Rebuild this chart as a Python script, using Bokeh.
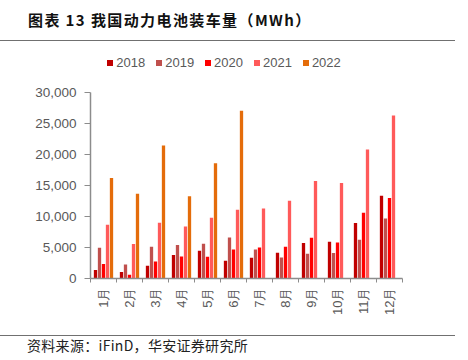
import math
import numpy as np
from bokeh.plotting import figure
from bokeh.models import ColumnDataSource, Range1d, FixedTicker, NumeralTickFormatter, Div
from bokeh.layouts import column
from bokeh.transform import dodge
from bokeh.embed import file_html
from bokeh.resources import INLINE

# ---------------- data ----------------
title_text = "图表 13 我国动力电池装车量（MWh）"
source_text = "资料来源：iFinD，华安证券研究所"
months = ["1月", "2月", "3月", "4月", "5月", "6月", "7月", "8月", "9月", "10月", "11月", "12月"]
years = ["2018", "2019", "2020", "2021", "2022"]
v2018 = [1360, 1030, 2050, 3780, 4470, 2860, 3340, 4150, 5720, 5930, 8940, 13360]
v2019 = [4960, 2270, 5120, 5390, 5600, 6630, 4690, 3400, 3990, 4100, 6250, 9690]
v2020 = [2320, 600, 2750, 3560, 3500, 4690, 5010, 5120, 6580, 5820, 10610, 12990]
v2021 = [8680, 5550, 9000, 8400, 9800, 11100, 11310, 12550, 15730, 15410, 20790, 26280]
v2022 = [16220, 13680, 21440, 13250, 18580, 27040]
y_ticks = [0, 5000, 10000, 15000, 20000, 25000, 30000]

colors = ["#C00000", "#C0504D", "#FF0000", "#FF5A5A", "#E46C0A"]
series = [v2018, v2019, v2020, v2021, v2022]

LATIN = "Liberation Sans"
CJK = "Noto Sans CJK SC"
GREY = "#595959"
AXIS_GREY = "#8c8c8c"
RULE = "#707070"

W = 468
H_HDR, H_MAIN, H_FTR = 72, 250, 38

# ---------------- header (title, rule, legend) ----------------
leg_left, leg_step = 107.3, 48.9
legend_html = "".join(
    f'<div style="position:absolute;left:{leg_left + i * leg_step:.1f}px;top:60px;'
    f'width:6px;height:6px;background:{col};"></div>'
    f'<div style="position:absolute;left:{leg_left + 9 + i * leg_step:.1f}px;top:56.3px;'
    f'font-family:\'{LATIN}\';font-size:13px;line-height:13px;color:{GREY};'
    f'white-space:nowrap;">{yr}</div>'
    for i, (yr, col) in enumerate(zip(years, colors))
)
hdr_html = (
    f'<div style="position:relative;width:{W}px;height:{H_HDR}px;">'
    f'<div style="position:absolute;left:28px;top:12px;font-family:\'{CJK}\';font-size:15px;'
    f'line-height:15px;font-weight:bold;letter-spacing:1.4px;color:#111;'
    f'white-space:nowrap;">{title_text}</div>'
    f'<div style="position:absolute;left:0;top:39.5px;width:455px;height:0;'
    f'border-top:1.3px solid {RULE};"></div>'
    f'{legend_html}'
    '</div>'
)
hdr = Div(text=hdr_html, width=W, height=H_HDR, margin=(0, 0, 0, 0))

# ---------------- main chart ----------------
p = figure(width=W, height=H_MAIN, x_range=Range1d(0, len(months)), y_range=Range1d(0, 30000),
           toolbar_location=None, output_backend="svg",
           min_border_left=90, min_border_right=66, min_border_top=20, min_border_bottom=44,
           outline_line_color=None)
p.xgrid.visible = False
p.ygrid.visible = False

centers = np.arange(len(months)) + 0.5
step = 4 / 26.0
bw = 3.3 / 26.0
for i, (yr, vals, col) in enumerate(zip(years, series, colors)):
    src = ColumnDataSource(dict(x=centers[:len(vals)], top=vals))
    p.vbar(x=dodge("x", (i - 2) * step, range=p.x_range), top="top", width=bw,
           source=src, fill_color=col, line_color=None)

xa = p.xaxis[0]
xa.ticker = FixedTicker(ticks=list(centers), minor_ticks=list(range(len(months) + 1)))
xa.major_label_overrides = {float(c): m for c, m in zip(centers, months)}
xa.major_label_orientation = math.pi / 2
xa.major_tick_out = 0
xa.major_tick_in = 0
xa.minor_tick_out = 4
xa.minor_tick_in = 0
xa.minor_tick_line_color = AXIS_GREY
xa.axis_line_color = AXIS_GREY
xa.axis_line_width = 1.5
xa.major_label_standoff = 5
xa.major_label_text_font = LATIN
xa.major_label_text_font_size = "13px"
xa.major_label_text_color = GREY

ya = p.yaxis[0]
ya.ticker = FixedTicker(ticks=y_ticks)
ya.formatter = NumeralTickFormatter(format="0,0")
ya.major_tick_out = 6
ya.major_tick_in = 0
ya.minor_tick_out = 0
ya.minor_tick_in = 0
ya.major_tick_line_color = AXIS_GREY
ya.axis_line_color = AXIS_GREY
ya.axis_line_width = 1.5
ya.major_label_standoff = 8
ya.major_label_text_font = LATIN
ya.major_label_text_font_size = "13.5px"
ya.major_label_text_color = GREY

# ---------------- footer (rule + source) ----------------
ftr_html = (
    f'<div style="position:relative;width:{W}px;height:{H_FTR}px;">'
    f'<div style="position:absolute;left:0;top:13px;width:455px;height:0;'
    f'border-top:1.3px solid {RULE};"></div>'
    f'<div style="position:absolute;left:27px;top:15.6px;font-family:\'{CJK}\';font-size:14px;'
    f'line-height:14px;letter-spacing:0.3px;color:#222;white-space:nowrap;">{source_text}</div>'
    '</div>'
)
ftr = Div(text=ftr_html, width=W, height=H_FTR, margin=(0, 0, 0, 0))

layout = column(hdr, p, ftr, spacing=0)
open("out.html", "w").write(file_html(layout, INLINE))
